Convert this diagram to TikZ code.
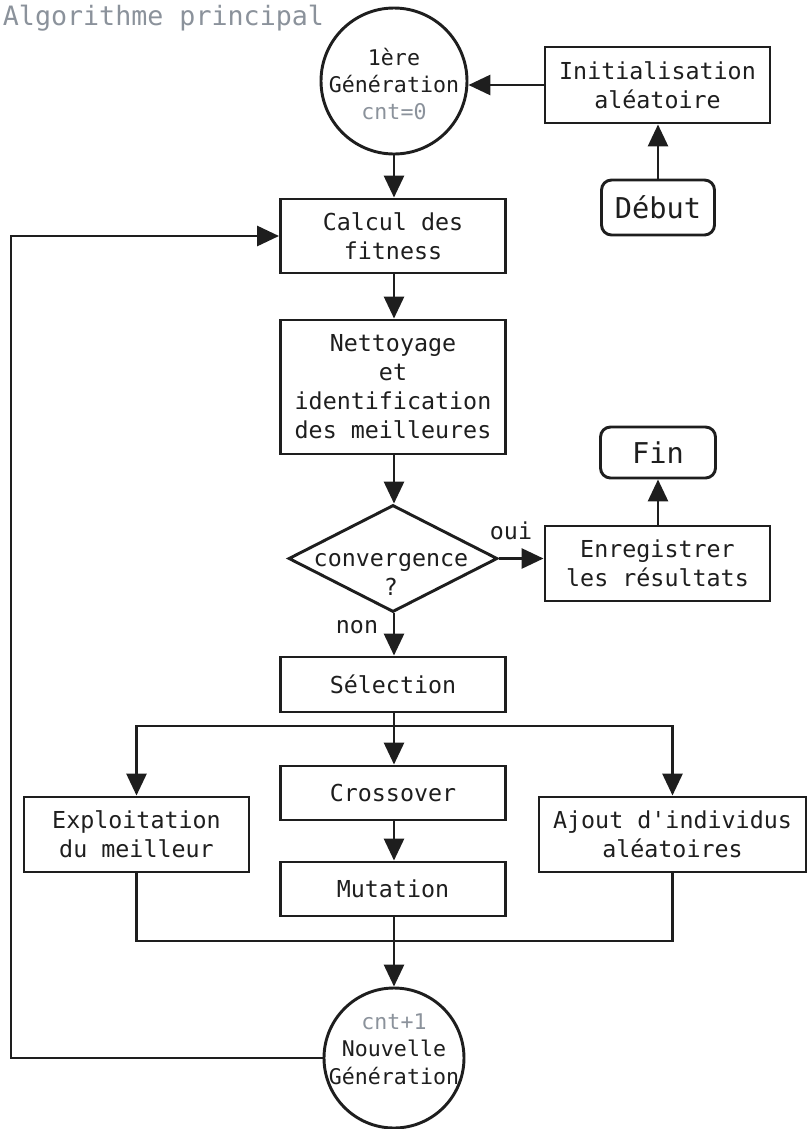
\documentclass[tikz,border=0pt]{standalone}
\usepackage{fontspec}
\setmainfont{DejaVu Sans Mono}[Ligatures=TeXOff]
\usetikzlibrary{arrows.meta,shapes.geometric}
\definecolor{gtxt}{HTML}{8B929B}
\definecolor{ink}{HTML}{1E1E1E}
\begin{document}
\begin{tikzpicture}[x=0.75pt,y=-0.75pt,line width=2.2pt,draw=ink,
  lbl/.style={font=\fontsize{17.5}{21.75}\selectfont,text=ink,align=center},
  box/.style={draw,rectangle,lbl,minimum width=168.75pt,inner sep=0pt},
  rbox/.style={draw,rectangle,rounded corners=7.5pt,text=ink,inner sep=0pt,font=\fontsize{21.5}{26}\selectfont},
  gen/.style={draw,circle,inner sep=0pt},
  gtext/.style={text=ink,align=center,font=\fontsize{16.2}{20.5}\selectfont},
  arr/.style={-{Triangle[length=16.5pt,width=15pt]}}]
\useasboundingbox (0,0) rectangle (807,1129);
% title
\node[anchor=west,text=gtxt,font=\fontsize{20}{24}\selectfont] (title) at (-3,18) {Algorithme principal};
% nodes
\node[gen,minimum size=109.5pt] (gen1) at (394,81) {};
\node[gtext] (gen1t) at (394,84) {1ère\\Génération\\\textcolor{gtxt}{cnt=0}};
\node[box,minimum height=57pt] (init) at (657.5,85) {Initialisation\\aléatoire};
\node[rbox,minimum width=84.75pt,minimum height=41.25pt] (debut) at (658,207.5) {Début};
\node[box,minimum height=55.5pt] (calc) at (393,236) {Calcul des\\fitness};
\node[box,minimum height=100.5pt] (nett) at (393,387) {Nettoyage\\et\\identification\\des meilleures};
\node[diamond,draw,inner sep=0pt,minimum width=156.75pt,minimum height=80.25pt] (conv) at (393,558.5) {};
\node[lbl] (convt) at (391,574) {convergence\\?};
\node[box,minimum height=56.25pt] (enr) at (657.5,563.5) {Enregistrer\\les résultats};
\node[rbox,minimum width=86.25pt,minimum height=38.25pt] (fin) at (658,452.5) {Fin};
\node[lbl] (oui) at (511,531) {oui};
\node[lbl] (non) at (357,627) {non};
\node[box,minimum height=41.25pt] (sel) at (393,684.5) {Sélection};
\node[box,minimum height=56.25pt] (expl) at (136.5,834.5) {Exploitation\\du meilleur};
\node[box,minimum height=40.5pt] (cross) at (393,793) {Crossover};
\node[box,minimum height=40.5pt] (mut) at (393,889) {Mutation};
\node[box,minimum width=200.25pt,minimum height=56.25pt] (ajout) at (672.5,834.5) {Ajout d'individus\\aléatoires};
\node[gen,minimum size=105pt] (gen2) at (394,1058) {};
\node[gtext] (gen2t) at (394,1049) {\textcolor{gtxt}{cnt+1}\\Nouvelle\\Génération};
% helper coordinates
\coordinate (br) at (394,726);
\coordinate (mg) at (394,941);
\coordinate (fb) at (11,0);
% connectors
\draw[arr] (debut.north) -- (debut.north |- init.south);
\draw[arr] (init.west) -- (gen1.east |- init.west);
\draw[arr] (gen1.south) -- (gen1.south |- calc.north);
\draw[arr] (calc.south -| gen1.south) -- (gen1.south |- nett.north);
\draw[arr] (nett.south -| gen1.south) -- (conv.north -| gen1.south);
\draw[arr] (conv.east) -- (conv.east -| enr.west);
\draw[arr] (enr.north -| fin.south) -- (fin.south);
\draw[arr] (conv.south -| br) -- (br |- sel.north);
\draw (sel.south -| br) -- (br);
\draw[arr] (br) -| (expl.north);
\draw[arr] (br) -| (ajout.north);
\draw[arr] (br) -- (br |- cross.north);
\draw[arr] (cross.south -| br) -- (br |- mut.north);
\draw (expl.south) |- (mg) -| (ajout.south);
\draw[arr] (mut.south -| mg) -- (gen2.north);
\draw[arr] (gen2.west) -- (gen2.west -| fb) |- (calc.west);
\end{tikzpicture}
\end{document}
